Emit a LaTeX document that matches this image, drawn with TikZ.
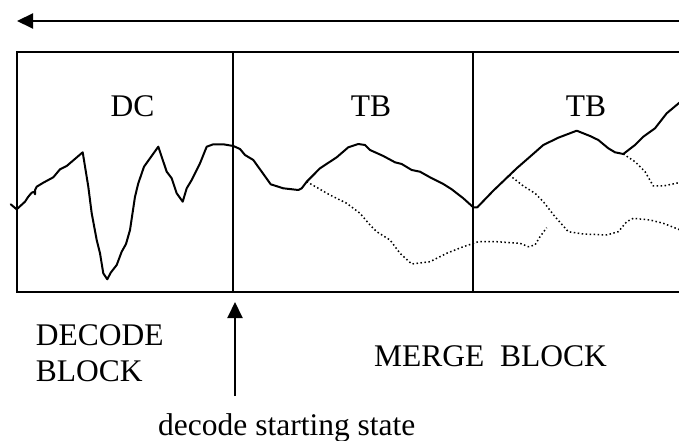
\documentclass[tikz,border=0pt]{standalone}
\usepackage{fontspec}
\setmainfont{Liberation Serif}
\usetikzlibrary{arrows.meta}
\begin{document}
\begin{tikzpicture}[x=1bp,y=-1bp,
  lbl/.style={font=\fontsize{31.5bp}{36bp}\selectfont, inner sep=0pt},
  frame/.style={line width=2bp},
  trace/.style={line width=2bp, line join=round, line cap=round},
  alt/.style={line width=1.5bp, dash pattern=on 1.5bp off 2.5bp, line join=round},
  arr/.style={line width=2bp, -{Triangle[length=16bp,width=15bp]}}]
\useasboundingbox (0,0) rectangle (679,441);
\clip (0,0) rectangle (679,441);
% frame
\draw[frame] (690,52.5) -- (16.7,52.5) -- (16.7,292.5) -- (690,292.5);
\draw[frame] (233,52.5) -- (233,292.5);
\draw[frame] (473,52.5) -- (473,292.5);
% top arrow
\coordinate (tr) at (690,21);
\coordinate (tl) at (17,21);
\draw[arr] (tr) -- (tl);
% labels
\node[lbl, anchor=base] (dc) at (132.5,117) {DC};
\node[lbl, anchor=base] (tb1) at (371,117) {TB};
\node[lbl, anchor=base] (tb2) at (586,117) {TB};
\node[lbl, anchor=north west, align=left] (db) at (35.7,324.5) {DECODE\\BLOCK};
\node[lbl, anchor=base west] (mb) at (374,366) {MERGE\ \ BLOCK};
\node[lbl, anchor=base west] (dss) at (158,435) {decode starting state};
% start arrow
\coordinate (sb) at (235,396);
\coordinate (st) at (235,302);
\draw[arr] (sb) -- (st);
% solid trace
\draw[trace] (10.7,204.3) -- (16.7,209.3) -- (25,201.7) -- (28.3,196.7) -- (31.7,192.7) -- (34.3,191.7) -- (35,194.3) -- (35,190) -- (36.7,186.7)
 -- (43.3,182.7) -- (53.3,177.3) -- (60,169.3) -- (66.7,166) -- (82.7,152.3) -- (88.3,186.7) -- (91.7,213.3) -- (96.7,240)
 -- (100,253.3) -- (103.3,273.3) -- (107.3,279.3) -- (110.7,272.7) -- (116.7,265) -- (121.7,251.7) -- (126,244) -- (130,230)
 -- (135,196.7) -- (138.3,183.3) -- (144,166.7) -- (150,158.3) -- (158.3,146.7) -- (166.7,171.7) -- (171.7,178.3)
 -- (176.7,193.3) -- (182.7,201.7) -- (186.7,188.3) -- (191.7,180) -- (200,163.3) -- (206.7,146.7) -- (213.3,144.3)
 -- (223.3,144.3) -- (233.3,146) -- (240,149) -- (245,155) -- (253.3,160) -- (261.7,171.7) -- (270.7,184.3) -- (283.3,188.3)
 -- (298.3,190) -- (301.7,188.3) -- (306.7,181.7) -- (320,168.3) -- (336.7,157.3) -- (348.3,147.3) -- (358.3,144)
 -- (365,145) -- (370,150) -- (383.3,156) -- (395,162.3) -- (401.7,164) -- (411.7,170) -- (420,171.7) -- (430,177.3)
 -- (443.3,184) -- (451.7,189.3) -- (463.3,198.3) -- (473.3,207.3) -- (477.3,207.3) -- (493.3,190.7) -- (516.7,168.3)
 -- (530,156.7) -- (543.3,145) -- (558.3,137.7) -- (576.7,130.7) -- (590,136) -- (598.3,140) -- (608.3,148.3)
 -- (615,152.3) -- (623.3,154) -- (635,145) -- (643.3,136.7) -- (655,128.3) -- (666.7,113.3) -- (679,103) -- (690,95);
% dotted alternatives
\draw[alt] (306.7,181.7) -- (330,195) -- (346.7,203.3) -- (360,213.3) -- (370,225) -- (376.7,231.7) -- (390,240)
 -- (400,253.3) -- (411.7,264) -- (430,261.7) -- (446.7,253.3) -- (463.3,246.7) -- (478.3,241.7) -- (496.7,241.7)
 -- (520,243.3) -- (528.3,246.7) -- (535,245) -- (540,236.7) -- (546.7,227.7);
\draw[alt] (509.3,175) -- (523.3,186) -- (535,193.3) -- (543.3,201.7) -- (555,216.7) -- (568.3,231.7) -- (583.3,234)
 -- (606.7,235) -- (618.3,231.7) -- (626.7,221.7) -- (633.3,218.3) -- (650,220) -- (663.3,223.3) -- (679,229.5) -- (690,233);
\draw[alt] (623.3,154) -- (635,161.7) -- (645,171.7) -- (653.3,186) -- (663.3,186) -- (679,182.7) -- (690,180);
\end{tikzpicture}
\end{document}
